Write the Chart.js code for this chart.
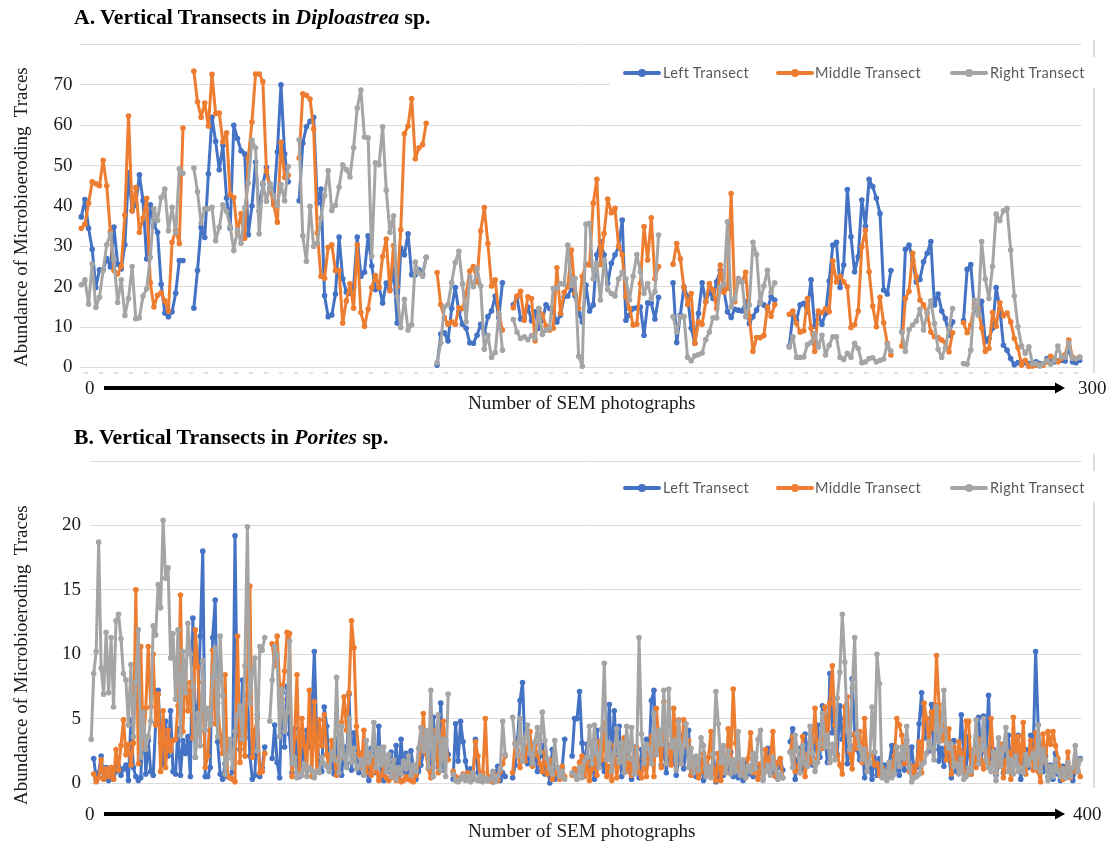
<!DOCTYPE html>
<html>
<head>
<meta charset="utf-8">
<title>Vertical Transects</title>
<script src="https://cdn.jsdelivr.net/npm/chart.js@4/dist/chart.umd.min.js"></script>
<style>
html,body{margin:0;padding:0;background:#fff;}
#page{position:relative;width:1109px;height:843px;overflow:hidden;background:#fff;font-family:"Liberation Serif",serif;color:#1a1a1a;}
canvas{position:absolute;left:0;}
.t{position:absolute;white-space:pre;line-height:1;}
.title{font-weight:bold;font-size:21.7px;color:#000;}
.num{font-size:19px;}
.xt{font-size:19.2px;}
.yt{font-size:19px;transform-origin:0 0;transform:rotate(-90deg);}
.mask{position:absolute;left:610px;width:490px;background:#fff;height:31px;}
.border{position:absolute;left:1093px;width:1.5px;background:#dcdcdc;}
.lg{position:absolute;font-family:Lato,"Open Sans",sans-serif;font-size:14.5px;color:#595959;white-space:pre;line-height:1;letter-spacing:.35px;}
.sw{position:absolute;height:3.5px;border-radius:2px;}
.dot{position:absolute;width:8px;height:8px;border-radius:50%;}
.arrow{position:absolute;left:0;top:0;}
</style>
</head>
<body>
<div id="page">
  <canvas id="chartA" width="1109" height="420" style="top:0"></canvas>
  <canvas id="chartB" width="1109" height="423" style="top:420px"></canvas>

  <div class="border" style="top:40px;height:333px"></div>
  <div class="border" style="top:454px;height:334px"></div>
  <div class="mask" style="top:57px"></div>
  <div class="mask" style="top:471px"></div>

  <div class="t title" style="left:74px;top:7px">A. Vertical Transects in <i>Diploastrea</i> sp.</div>
  <div class="t title" style="left:74px;top:427px">B. Vertical Transects in <i>Porites</i> sp.</div>

  <div class="t yt" style="left:11px;top:367px">Abundance of Microbioeroding  Traces</div>
  <div class="t yt" style="left:11px;top:805px">Abundance of Microbioeroding  Traces</div>

  <div class="t num" style="left:85px;top:378px">0</div>
  <div class="t num" style="left:1078px;top:378px">300</div>
  <div class="t num" style="left:85px;top:804px">0</div>
  <div class="t num" style="left:1073px;top:804px">400</div>
  <div class="t xt" style="left:468px;top:393px">Number of SEM photographs</div>
  <div class="t xt" style="left:468px;top:821px">Number of SEM photographs</div>

  <svg class="arrow" width="1109" height="843">
    <line x1="84" y1="373" x2="1080" y2="373" stroke="#c4c4c4" stroke-width="1" stroke-dasharray="4 11"/>
    <rect x="104" y="386" width="952" height="4" fill="#000"/>
    <polygon points="1055,382.5 1065,388 1055,393.5" fill="#000"/>
    <rect x="104" y="812" width="952" height="4" fill="#000"/>
    <polygon points="1055,808.5 1065,814 1055,819.5" fill="#000"/>
  </svg>

  <div id="legends"></div>
</div>

<script>
const seriesNames = ["Left Transect", "Middle Transect", "Right Transect"];
const seriesColors = ["#4472C4", "#ED7D31", "#A5A5A5"];
const yTicksA = [0,10,20,30,40,50,60,70];
const yTicksB = [0,5,10,15,20];

const leftA = [
37.3,41.6,34.5,29.3,19.8,24.2,24.2,27,24.9,34.8,25.6,24.4,30.4,48.2,38.8,40.3,47.7,41.3,26.9,40.3,35.4,33.5,20.6,13.5,12.6,13.8,18.4,26.5,26.5,
null,null,
14.7,24,34.7,32.2,48,62,56,49,55,42,34.5,60,56.7,53.7,52.9,32.9,40,50.9,38.7,45.3,49.6,44.5,41,53.4,70,52.9,46,
null,null,
41.3,55.6,59.6,61,62,40.7,44.2,17.8,12.6,13,18.2,32.3,22,18.7,18.4,20,32.3,22.6,23.6,32.6,25.2,19.3,20,16,20.9,19.3,24.6,11,29.6,27.9,33.1,23,23,24.2,23.1,27.3,
null,null,
0.6,8.3,8.6,6.6,14.6,19.8,13.8,10.7,9.7,6.1,6,8,10.7,8.4,12.6,14,17.7,12.3,21,
null,null,
15.5,17.4,12,12.1,15,11.6,13.8,9.7,11.7,15.5,14.6,13.8,11.3,13,17.5,17.7,19.6,17.7,13.4,11.3,20.4,14,15.5,27.9,31.2,27.9,20.8,25.8,27.9,29.9,36.5,11.7,13,14.6,14.8,15,8,16,15.9,12,17.4,
null,null,null,
21,6.2,13,20,17.5,9.7,6,13.4,21,16.3,18.8,17.1,21.2,24.1,19.2,13.8,12.4,14.4,14.2,14,16.3,10.9,12.6,14.2,16.3,15.5,14.5,17.5,16.7,
null,null,null,
5.3,13,11.7,15.5,15.9,13.8,21.7,10.2,13,10.7,13.4,21.4,30.3,31,19.8,25.4,44.1,32.4,23.7,27.4,41.5,35,46.6,44.8,41.9,38.1,19.2,18.2,24,
null,null,
8.8,29.3,30.3,26.6,21.2,21.8,26.2,28.3,31.2,15.5,18.2,14,12.1,8,11.3,
null,null,
11.6,24.3,25.5,14.6,13.8,16.4,6.4,7.2,9.7,19.8,14.6,5.5,4.3,2.2,0.7,1.2,1.2,1.2,1,1.1,1.4,1,0.9,2.2,2.1,1.4,1.6,1.8,1.6,5.1,1.4,1.2,1.8
];
const middleA = [
34.5,35.5,40.7,46,45.5,45,51.3,45,33.7,24,23.2,25,37.8,62.3,38.8,44.6,33.5,37,41.9,21,15,17.9,18.5,16.5,14,31,34,30.7,59.3,
null,null,
73.4,65.8,62,65.5,59.8,72.6,62.9,63,55.9,58.1,42.8,42.1,33.3,38.1,32,51.9,60.8,72.7,72.7,70.8,48.6,44,40.3,36,55.8,47.1,47.6,
null,null,
51.9,67.8,67.4,66.5,59.1,33.3,22.6,22.1,29.8,30.4,24,24,11,16.5,20.7,14.7,30.4,13.6,10.2,14.5,19.8,22.8,19.8,27.5,31.8,19,30.2,20,34.1,57.9,59.8,66.6,51.7,54.4,55.2,60.5,
null,null,
23.5,15.6,12.4,10.7,11.3,10.7,14.8,14.6,18.3,23.9,25,21.2,33.8,39.6,30.7,20.2,21.7,13.1,9.3,
null,null,
14.8,17.7,18.9,11.7,17.5,17.1,6.6,14.6,13,10.3,9.3,9.7,24.7,13.4,18.6,20,29.1,18.3,14.6,22.5,25.6,25.4,40.7,46.6,25.5,33.2,41.7,38.3,39.4,30,27.9,17.5,14.6,10.5,10.7,20.8,34.9,26.6,37.1,22,25,
null,null,null,
25.6,30.7,26.9,19.8,15.6,18.3,6,11.3,10.7,16.3,20.8,19.2,14.6,25.4,18.6,19.6,43.1,16.3,21.7,21.2,23.6,12.6,4,7.4,7.4,7.9,15,12.7,15.6,
null,null,null,
13.2,14,10.9,8.8,9.1,17.1,9.7,4,14,13.6,14.6,13.8,26.4,21.2,22.6,21.2,20,9.9,10.6,14,29.9,34,23.7,15.2,10.1,17.4,11.1,6,3.1,
null,null,
5.3,17.1,18.9,28.3,22.5,16.7,15.5,13.4,8.8,7.6,7.4,6.8,6.2,3.9,8.6,
null,null,
11.1,8.6,10.5,15.6,14.8,9.8,4,4.7,13.6,10.2,16,12.8,13.5,11.3,7.2,4.9,0.6,1.8,0.3,0.4,0.6,0.6,0.6,1.4,2.8,2.2,1.4,2.2,3.2,6.8,2.6,2.2,2.6
];
const rightA = [
20.5,21.7,15.7,25.7,14.9,17.4,24,30.4,33.1,26.7,16.1,21.7,12.9,17.1,25,12.1,12.3,17.7,19.5,27.3,39.3,36.4,42.1,44.2,33.9,39.7,33.3,49.2,48.1,
null,null,
49.4,43.5,35.8,39.3,39.3,39.7,31.4,34.7,40.3,38.7,35,29,34.1,30.8,39.5,45.7,56.3,54.4,33.1,45.7,41.2,45.5,42.5,40.1,45.3,41.3,49.8,
null,null,
56.4,32.6,26.3,39.9,30,30.8,37,42.6,48.8,38.9,40.2,44.7,50.2,49,47.2,54.4,64.3,68.7,57.1,56.9,27.5,50.7,50.2,59.6,43.9,33.5,37.6,17.6,9.9,16.9,9.3,10.6,26.1,23.4,22.6,27.3,
null,null,
1.2,6.1,15,15.6,21,26,28.8,20.7,11.3,22.5,20,24.5,20.2,4.5,8,2.5,3.7,13.4,4.3,
null,null,
11.9,8.8,7.2,7.6,6.9,7.9,7.2,14.6,8.2,9.3,9.7,19.6,19.6,20.8,20.6,30.3,20.4,22.1,2.8,0.3,35.5,35.7,22,25.8,16.7,26.6,19.3,18.3,17.7,21.9,23.6,22,16.7,22.6,28,23.7,18.3,20.8,17.1,18.8,32.8,
null,null,null,
12.6,8.8,12.6,12.6,2.5,1.7,2.9,3.2,3.6,6.9,8.8,12.3,12.3,20,20.6,36.1,15,17.1,22.1,21.2,12.6,15.5,31,28,15.9,20.2,24.1,18.6,21,
null,null,null,
5.1,7.6,2.5,2.5,2.6,5.7,6.2,8.4,5.1,8,3.1,5.5,7.6,7.6,2.5,2,3.5,2.5,6,4.7,1.2,1.4,2.2,2.4,1.4,1.8,2.1,5.8,4.1,
null,null,
8.8,4,9.4,10.5,11.5,14.4,9.3,13.6,16.5,10.9,4.5,2.5,4.9,9.7,14.6,
null,null,
1,0.8,4.3,16.7,13,31.2,21.9,17.1,25,38,36.4,38.8,39.4,29.1,17.7,10.1,5.3,3.5,5.1,1,1,0.4,1,1.8,0.8,1.8,5.3,2.6,2.6,6.1,2.2,2.2,2.5
];

const leftB = [
null,1.9,0.3,0.8,2.1,0.4,1.2,0.2,0.7,0.3,0.9,1.3,0.6,1.1,1.4,0.2,4.9,1.2,0.5,0.2,
0.4,5.6,0.7,3.3,0.9,0.6,4.6,7.2,3.1,1.4,4.8,2.1,5.6,0.9,0.7,4.2,0.6,3.3,2.3,3.6,
0.5,12.8,2,6,11.4,18,0.5,0.5,1.2,11.3,14.2,3.2,0.7,0.3,1.5,0.5,0.4,0.9,19.2,4.5,
2.6,8,3.5,6.8,2.1,0.3,0.6,5.3,0.5,1.2,2.8,null,null,1.9,4.5,1.6,0.4,7,2.8,7.5,
3.8,0.8,4.2,2.3,0.5,3.1,1.4,4.1,2.8,5.2,10.2,3.6,1.5,0.9,5.9,4.4,1.1,2.1,0.7,3.4,
1.2,0.6,2.8,1.5,6.9,1,3.9,1.7,0.8,2.3,0.6,1.4,0.2,2.7,1.9,0.8,4.4,0.5,0.2,1.6,
0.9,2.4,0.5,2.9,0.4,3.4,0.9,2.3,0.7,2.5,1.1,0.3,0.9,1.4,2.3,3.4,1.9,0.8,5.1,2.7,
1.2,6.2,1,3.3,2.2,null,0.3,4.6,1.7,4.8,3.2,1.7,0.5,1.1,0.3,3.4,0.8,0.2,0.4,0.3,
0.2,0.5,0.1,0.6,1.3,0.2,0.8,0.5,null,null,0.4,1.4,3.4,6.4,7.8,2.7,1.5,2.3,1.4,3,
0.9,2.1,2.9,0.7,1.3,0,2.6,0.3,1.1,0.5,1.2,3.4,null,null,2.1,5,5,7.1,3.1,1.2,
3,0.8,1.7,0.3,4.1,2.2,1.6,0.9,2.5,6.1,1.8,5.6,2.2,4.4,0.5,2.3,3.1,1,0.3,2.8,
1.7,0.4,2.6,1.3,3.4,1.9,6.4,7.2,2.5,4.1,1.4,3.2,0.8,2.9,1.5,2.7,0.6,1.9,3.7,1.1,
2.5,4.1,0.6,1.4,0.5,0.9,1.8,0.2,0.9,1.2,0.7,2.3,0.1,0.3,1.4,0.6,1.9,0.9,2.4,0.5,
1.2,0.4,1,0.2,1.6,0.7,1.3,0.5,2,0.9,1.4,0.3,1.1,2.7,0.8,1.7,0.6,1.2,1.9,1,
null,null,3.2,4.2,0.3,1.8,2.7,1,3.8,2.2,3.1,1.4,2.9,4.5,2,6,3.4,1.6,8.5,3.9,
5.5,2.2,6,3.4,5,1.5,2.9,8.1,3.7,2.6,1.8,3,0.4,2.1,1.2,0.3,2.4,0.6,1.9,0.8,
1.4,0.5,1.6,2.9,0.9,1.7,0.6,2.2,1,3.3,1.4,2.8,0.8,1.2,4.6,7,3.5,5,2.5,6.1,
2.6,6,1.7,2.7,1.3,3.8,2.1,0.4,3.3,0.9,1.7,5.3,2.4,1.2,3.6,0.7,2.1,3.2,5.1,1.5,
5.2,2.3,6.8,1.9,2.6,0.6,1.3,3,0.8,2.2,3.7,1.1,2.4,1.8,3.7,0.3,1.5,2.6,1.2,3.7,
2.2,10.2,4.5,1.7,0.9,2.1,0.5,1.4,0.3,2.3,0.7,0.2,1.3,0.4,0.8,1.1,0.2,0.9,1.6,1.9
];
const middleB = [
null,0.7,0.1,0.4,1.8,0.3,1.1,0.5,1.2,0.3,2.6,1,2.9,4.9,2.2,3,1.4,3.1,15,1.5,
10.6,2.7,5.8,10.6,5.9,10,4.5,6.9,0.9,5.6,1.2,4.1,2.5,3.3,3.4,6,14.6,4,9.3,5.6,
7.8,3.5,11.9,9,4,7.8,1.2,2.1,5.4,10.3,4.6,6.2,3.7,2.3,8.4,0.6,0.4,0.3,0.1,11.4,
1.6,5.2,2.1,7.9,15.3,2,4.1,5,0.8,0.9,2.3,null,null,10.8,9.1,11.4,7.6,6.5,8.7,11.7,
11.6,0.5,3.5,8.4,0.7,5,2.9,1.1,7.2,0.5,6.3,0.9,4.9,2.9,5.3,2.2,1.1,3.3,2,0.6,
1.9,4.7,6.7,4.1,7,12.6,10.5,4.4,2.3,1.2,4.1,0.8,2.2,0.6,1.9,0.9,0.2,0.6,1.3,0.4,
0.2,0.4,0.7,0.2,0.3,0.1,0.2,0.5,0.3,0.2,0.1,0.6,1.5,2.6,5.4,2.3,1.1,0.4,1.9,4.1,
0.8,2.5,4.8,3,1.8,null,0.9,0.5,0.2,0.4,0.7,0.3,0.8,0.2,0.5,3.2,2.1,0.3,0.8,5,
0.2,0.5,0.1,0.6,0.2,0.9,1.5,2.1,null,null,0.8,3.1,2.5,1.2,2.2,1.7,2.7,4,1.3,2.9,
2.2,1.5,0.9,2.4,0.7,1.8,0.3,0.7,1.2,0.3,1.3,0.5,null,null,0.6,1.1,0.3,1.6,2.1,0.5,
1.7,0.2,1.1,1.9,0.6,3.2,1.8,4.7,0.5,1.3,0.2,2.9,0.4,1.7,2.3,3.5,0.9,2,0.6,1.3,
2.8,0.8,0.4,1.9,0.5,2.6,3.6,0.5,5.8,3.3,1.2,6.3,3.7,2.5,1.4,5.8,3,4.9,1.5,4.9,
2.9,3.3,0.6,1.9,1,0.4,0.9,2.3,0.7,2,4,1.1,0.2,2.3,0.2,1.4,0.8,4.2,1.9,7.3,
3.1,1.2,0.7,1,0.4,1.9,3.9,0.8,1.5,0.3,1.5,0.6,2.6,1.1,2,4,0.5,1.6,1.9,0.4,
null,null,2.4,3.6,0.9,1.3,0.8,3.6,0.5,2.2,1.6,3.2,5.8,1.9,3.3,2.7,5.9,3,6.2,9.1,
4.5,2.1,1.4,0.7,5.9,6.7,2.4,1.1,3.8,2.7,4,1.6,5,1.9,2.2,2.2,1.4,1.5,0.6,1.2,
0.4,0.8,1.5,0.5,2.1,5,4.5,3.7,1.5,2.7,0.9,1.3,0.5,1.4,3.2,0.8,6.2,5,3,5.5,
4.2,9.9,6.1,3.3,4.6,1.8,4.2,0.7,2.8,1.6,3.2,2.3,0.9,4.8,4.8,0.7,2.6,1.2,3.4,1.7,
1.1,2.4,1.5,5,2.1,0.8,1.5,3,0.4,1.7,2.4,0.3,5.1,1.8,3.6,1.2,4.7,0.7,1.9,3.3,
1,3.9,0.9,0.1,3.8,1.6,4,3,4,2.9,1.9,1.2,0.3,0.6,2.4,0.4,1,0.9,1.5,0.5
];
const rightB = [
3.4,8.5,10.2,18.7,8.9,6.9,11.7,7,11.3,5.9,12.6,13.1,11.2,8.5,8,4.5,9.2,3.6,7.8,11.9,
2,5.5,2.6,3.6,4.8,12.2,11.5,15.4,13.6,20.4,15.9,16.7,9.7,11.6,6.5,11.9,3.7,10.2,7,12.4,
10,7.5,2,5.4,2.9,9.5,4.1,5.8,4.5,8.2,10.5,3.6,11.4,6.8,0.7,1.9,3.4,1.2,4,5.3,
6,3.4,9.1,19.9,6.2,8.5,9.7,2.5,10.6,10.3,11.3,null,4.8,8,10.6,9.9,3.6,7.3,4,5.5,
11,1.5,2,0.4,0.7,0.6,1.5,0.5,1.2,1,0.4,0.9,0.8,2,1.5,1.3,0.9,2.4,1.8,8.2,
0.8,4.4,2,1.2,5,1.6,2.7,1.1,1.3,1.8,0.6,3.3,1.6,2.1,4.7,1.2,2.7,1.4,2.8,0.9,
2.2,0.5,1.8,0.3,1.2,0.7,1.7,1.1,2.1,0.6,1.4,0.9,2.7,4.3,2.5,4.1,1.2,7.2,0.5,3.5,
5.3,1,3.4,0.5,6.9,null,0.7,0.2,0.1,0.3,0.6,0.2,0.5,0.1,0.8,0.3,0.2,0.6,0.1,0.4,
0.2,0.3,0.9,0.1,0.5,1.1,4.8,2.2,null,null,5.1,3,2.1,5,1.7,3.5,4.5,2.3,1.5,3.2,
4.3,2.4,5.5,3.3,1.9,1.1,0.7,3.3,1.2,0.5,0.9,0.3,null,null,0.8,0.6,0.3,1.2,0.4,1.7,
2,4.4,1.5,4.5,2.3,1.2,4.2,9.3,1.8,3.1,0.9,2.3,4.2,1.6,3.1,0.8,4.4,1.9,4.3,0.7,
1.2,11.3,3.8,1.5,3,2.7,1.5,5.4,2.2,4.1,3,7.2,1.5,7.3,2.8,3.3,1,4.8,1.5,3,
4.6,1.2,2.7,0.8,2.1,1,3.5,2.9,0.5,1.3,0.4,2.2,7.1,4.6,1.6,2.9,0.8,2.5,0.7,1.8,
0.9,4,0.6,1.8,0.4,1.3,0.9,2.3,1.1,3.4,4.1,0.2,0.9,1.4,0.6,2,1.1,0.3,0.7,0.4,
null,null,2.4,1.2,3.7,2.5,0.8,2.9,1.5,1.3,4.4,2.3,0.9,1.6,3.1,5.4,2.8,3.7,1.6,3,
1.8,6.6,8.6,13.1,9.4,4.1,2.6,7.4,11.3,3.8,2.8,1.8,2.6,0.9,1.6,5.9,2.4,10,7.7,0.4,
0.9,0.2,1.6,0.4,0.7,2.8,1.3,2.8,1.9,4.4,1.2,0.1,0.4,0.5,0.7,1.4,1.6,2.3,3.2,2.7,
1.8,5.9,3.2,4.1,7.2,3.1,2.7,3,1.3,1.5,0.7,1.9,0.3,0.5,1.2,0.9,2.4,4.9,1.5,2.6,
5,1.8,1.2,0.9,2.4,0.2,3.5,1.3,2.7,4.3,0.9,1.8,0.7,2.1,0.9,1.2,0.8,2.2,1.4,1.9,
2.3,1.2,4.5,0.9,2.6,1.7,0.2,1.3,0.5,1.8,0.9,0.5,1.1,0.4,1.6,0.5,1.2,2.9,0.9,1.8
];

function makeChart(id, series, yMax, step, shownTicks, area, canvasH, tickPad) {
  const n = Math.max(...series.map(s => s.length));
  const photoLabels = Array.from({length: n}, (_, i) => String(i + 1));
  return new Chart(document.getElementById(id), {
    type: 'line',
    data: {
      labels: photoLabels,
      datasets: series.map((values, k) => ({
        label: seriesNames[k],
        data: values,
        order: 3 - k,
        borderColor: seriesColors[k],
        backgroundColor: seriesColors[k],
        borderWidth: 3,
        pointRadius: 2.8,
        pointBorderWidth: 0,
        pointHoverRadius: 2.8,
        tension: 0,
        spanGaps: false,
        clip: false,
        borderJoinStyle: 'round',
        borderCapStyle: 'round'
      }))
    },
    options: {
      responsive: false,
      animation: false,
      events: [],
      layout: { padding: { left: 0, top: area.top, right: 1109 - area.right, bottom: canvasH - area.bottom } },
      plugins: { legend: { display: false }, tooltip: { enabled: false }, title: { display: false } },
      scales: {
        x: { type: 'category', display: false, offset: true, grid: { display: false } },
        y: {
          min: 0, max: yMax,
          afterFit(s) { s.width = area.left; },
          border: { display: false },
          grid: { color: '#DCDCDC', lineWidth: 1, drawTicks: false },
          ticks: {
            stepSize: step,
            padding: tickPad,
            color: '#1a1a1a',
            font: { family: '"Liberation Serif", serif', size: 19 },
            callback: v => shownTicks.includes(v) ? String(v) : ''
          }
        }
      }
    }
  });
}

makeChart('chartA', [leftA, middleA, rightA], 80, 10, yTicksA, {left: 79.5, right: 1081.5, top: 44.5, bottom: 367.5}, 420, 7);
makeChart('chartB', [leftB, middleB, rightB], 25, 5, yTicksB, {left: 90, right: 1081.5, top: 41, bottom: 363}, 423, 9);

// legends as real text, one per panel
const legendRow = [
  {sw: 622.5, txt: 663},
  {sw: 775.7, txt: 815},
  {sw: 949.5, txt: 990}
];
const host = document.getElementById('legends');
[73, 488].forEach(y => {
  seriesNames.forEach((name, k) => {
    const pos = legendRow[k];
    const line = document.createElement('div');
    line.className = 'sw';
    line.style.cssText = `left:${pos.sw}px;top:${y - 1.75}px;width:38px;background:${seriesColors[k]}`;
    const dot = document.createElement('div');
    dot.className = 'dot';
    dot.style.cssText = `left:${pos.sw + 15}px;top:${y - 4}px;background:${seriesColors[k]}`;
    const text = document.createElement('div');
    text.className = 'lg';
    text.textContent = name;
    text.style.cssText = `left:${pos.txt}px;top:${y - 7}px`;
    host.append(line, dot, text);
  });
});
</script>
</body>
</html>
